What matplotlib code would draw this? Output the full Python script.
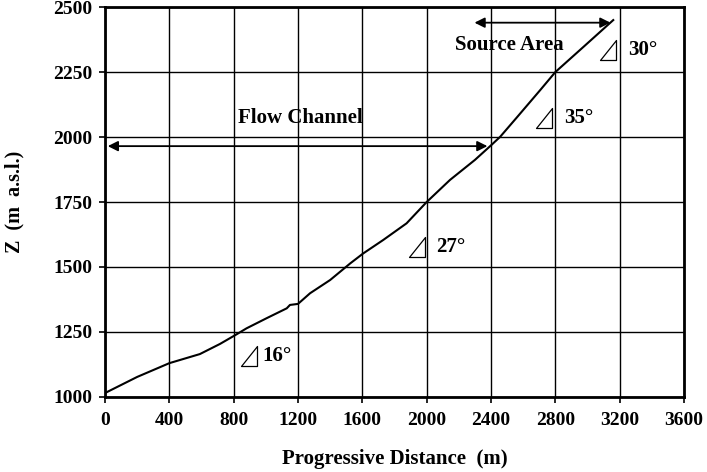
import numpy as np
import matplotlib
matplotlib.use('Agg')
import matplotlib.pyplot as plt
from matplotlib.path import Path

# longitudinal profile
dist = [0, 200, 400, 590, 715, 810, 880, 1005, 1130, 1150, 1200, 1275, 1400,
        1525, 1605, 1730, 1875, 2000, 2145, 2300, 2400, 2457, 2560, 2705,
        2800, 2975, 3160]
elev = [1015, 1077, 1130, 1165, 1204, 1238, 1264, 1303, 1341, 1354, 1358,
        1399, 1450, 1514, 1552, 1604, 1668, 1750, 1835, 1912, 1968, 2001,
        2075, 2180, 2250, 2347, 2450]

xticks = np.arange(0, 3601, 400)
yticks = np.arange(1000, 2501, 250)

slopes = ['30°', '35°', '27°', '16°']
tri_x = [3129, 2731, 1939, 896]
tri_y = [2335, 2075, 1577, 1156]
lab_x = [3250, 2855, 2057, 981]

plt.rcParams['font.family'] = ['Liberation Serif', 'DejaVu Sans']
plt.rcParams['font.weight'] = 'bold'

fig = plt.figure(figsize=(7.07, 4.72), dpi=100)
ax = fig.add_axes([0.1485, 0.159, 0.819, 0.826])

ax.plot(dist, elev, color='black', lw=1.5)

ax.set_xlim(0, 3600)
ax.set_ylim(1000, 2500)
ax.set_xticks(xticks)
ax.set_yticks(yticks)
ax.grid(True, color='black', lw=1.0)
ax.tick_params(direction='out', length=4, width=1.2, labelsize=14, colors='black')
ax.tick_params(axis='x', pad=7)
ax.tick_params(axis='y', pad=5)
for lab in ax.get_xticklabels() + ax.get_yticklabels():
    lab.set_fontweight('bold')
for s in ax.spines.values():
    s.set_linewidth(2)

ax.set_xlabel('Progressive Distance  (m)', fontsize=15, fontweight='bold', labelpad=14)
ax.set_ylabel('Z  (m  a.s.l.)', fontsize=14.5, fontweight='bold', labelpad=21)

# extents of the two zones
ax.annotate('', xy=(0, 1965), xytext=(2395, 1965),
            arrowprops=dict(arrowstyle='<|-|>', color='black', lw=1.3, mutation_scale=15))
ax.text(1213, 2073, 'Flow Channel', ha='center', va='center', fontsize=15, fontweight='bold')
ax.annotate('', xy=(2280, 2440), xytext=(3160, 2440),
            arrowprops=dict(arrowstyle='<|-|>', color='black', lw=1.3, mutation_scale=15))
ax.text(2513, 2354, 'Source Area', ha='center', va='center', fontsize=15, fontweight='bold')

# slope symbols: thin right triangle, taller than wide
tri = Path([(-0.375, -0.5), (0.375, -0.5), (0.375, 0.5), (-0.375, -0.5)],
           [Path.MOVETO, Path.LINETO, Path.LINETO, Path.CLOSEPOLY])
ax.plot(tri_x, tri_y, ls='none', marker=tri, ms=14.5, mfc='none', mec='black', mew=0.9)
for s, lx, ty in zip(slopes, lab_x, tri_y):
    ax.text(lx, ty, s, ha='left', va='center', fontsize=15, fontweight='bold')

fig.savefig('out.png', dpi=100)
